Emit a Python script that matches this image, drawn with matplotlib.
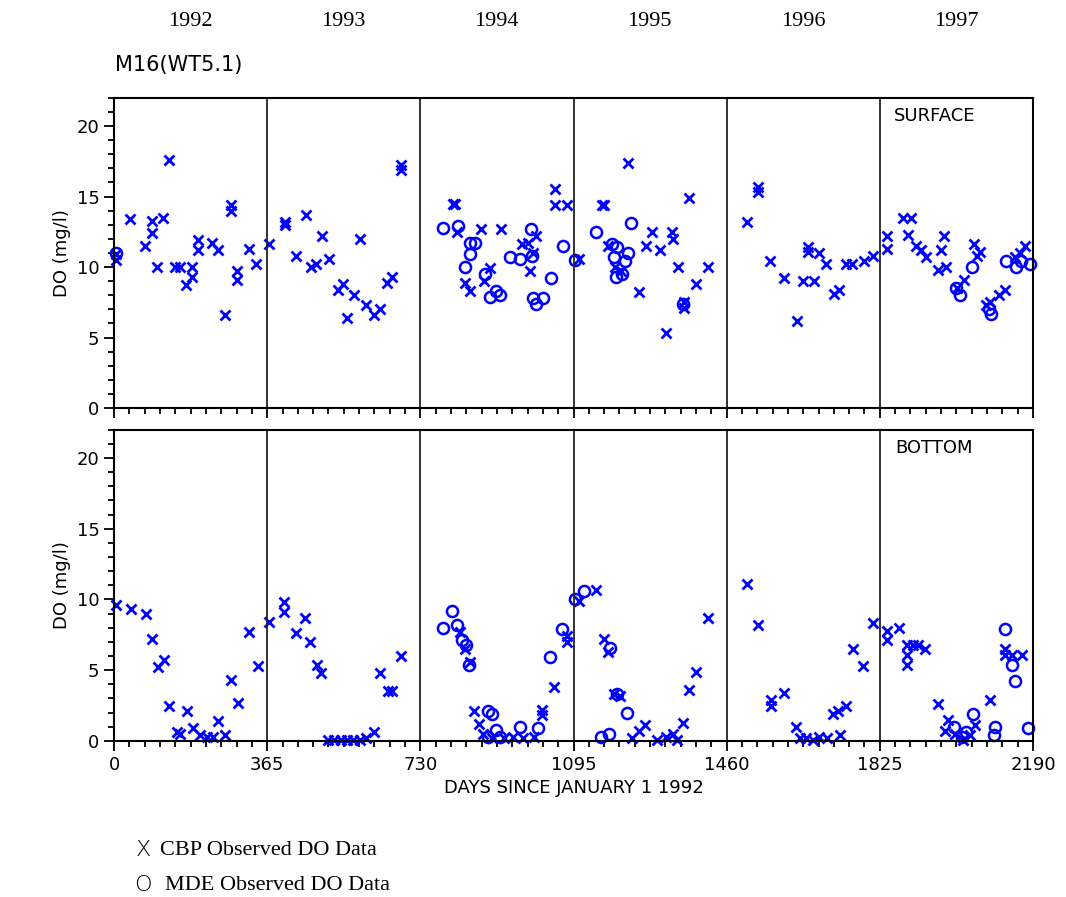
import numpy as np
import matplotlib
matplotlib.use('Agg')
import matplotlib.pyplot as plt
from matplotlib.ticker import MultipleLocator

years = ['1992', '1993', '1994', '1995', '1996', '1997']
xticks = [0, 365, 730, 1095, 1460, 1825, 2190]

# surface, CBP (x)
surf_cbp_day = [5, 5, 38, 74, 90, 90, 102, 117, 131, 145, 157, 172, 186, 186, 200, 200, 234, 248, 265, 279, 279, 293, 293, 322, 338,
                369, 408, 408, 434, 458, 470, 481, 496, 512, 534, 546, 555, 572, 586, 601, 620, 634, 651, 663, 684, 684,
                808, 812, 817, 874, 922, 837, 848, 987, 972, 1006, 998, 991, 1051, 1051, 1080, 896, 882,
                1108, 1163, 1167, 1177, 1194, 1208, 1225, 1251, 1268, 1282, 1301, 1316, 1330, 1332, 1344, 1358, 1358, 1370, 1387, 1416,
                1509, 1535, 1535, 1563, 1597, 1628, 1642, 1654, 1654, 1668, 1680, 1697, 1716, 1728, 1744, 1758, 1787, 1809,
                1842, 1842, 1880, 1899, 1892, 1911, 1923, 1935, 1964, 1971, 1978, 1983, 2009, 2025, 2049, 2064, 2057, 2078, 2088,
                2109, 2124, 2147, 2159, 2171]
surf_cbp_do = [10.9, 10.5, 13.4, 11.5, 13.3, 12.4, 10.0, 13.5, 17.6, 10.0, 10.0, 8.7, 9.3, 10.0, 11.9, 11.2, 11.7, 11.2, 6.6, 14.4, 14.0, 9.7, 9.1, 11.3, 10.2,
               11.6, 13.0, 13.2, 10.8, 13.7, 10.0, 10.2, 12.2, 10.6, 8.4, 8.8, 6.4, 8.0, 12.0, 7.3, 6.6, 7.0, 8.9, 9.3, 17.2, 16.9,
               14.5, 14.5, 12.5, 12.7, 12.7, 8.9, 8.3, 11.7, 11.6, 12.2, 11.0, 9.7, 15.5, 14.4, 14.4, 9.9, 9.0,
               10.6, 14.4, 14.4, 11.5, 10.0, 9.7, 17.4, 8.2, 11.5, 12.5, 11.2, 5.3, 12.5, 12.0, 10.0, 7.5, 7.1, 14.9, 8.8, 10.0,
               13.2, 15.7, 15.3, 10.4, 9.2, 6.2, 9.0, 11.4, 11.1, 9.0, 11.0, 10.2, 8.1, 8.4, 10.2, 10.2, 10.4, 10.8,
               12.2, 11.3, 13.5, 13.5, 12.3, 11.5, 11.2, 10.7, 9.8, 11.2, 12.2, 10.0, 8.5, 9.1, 11.6, 11.1, 10.8, 7.3, 7.5,
               8.0, 8.4, 10.7, 11.0, 11.5]

# surface, MDE (o)
surf_mde_day = [5, 784, 820, 848, 848, 860, 837, 884, 896, 910, 920, 944, 968, 994, 996, 998, 1006, 1022, 1041, 1070, 1099,
                1149, 1187, 1199, 1211, 1197, 1192, 1218, 1225, 1232, 1356,
                2045, 2007, 2016, 2085, 2090, 2126, 2150, 2183, 2162]
surf_mde_do = [11.0, 12.8, 12.9, 11.7, 10.9, 11.7, 10.0, 9.5, 7.9, 8.3, 8.0, 10.7, 10.6, 12.7, 10.8, 7.8, 7.4, 7.8, 9.2, 11.5, 10.5,
               12.5, 11.6, 11.4, 9.5, 9.3, 10.7, 10.4, 11.0, 13.1, 7.4,
               10.0, 8.5, 8.0, 7.0, 6.7, 10.4, 10.0, 10.2, 10.4]

# bottom, CBP (x)
bot_cbp_day = [5, 40, 76, 90, 105, 119, 131, 150, 157, 174, 188, 205, 222, 236, 248, 265, 279, 296, 322, 343,
               369, 405, 405, 434, 455, 467, 484, 493, 510, 525, 540, 555, 570, 585, 600, 620, 634, 653, 663, 684,
               824, 837, 848, 858, 870, 880, 900, 930, 950, 975, 1000, 1049, 1080, 1080, 1020, 1020,
               1108, 1149, 1168, 1177, 1192, 1206, 1235, 1251, 1266, 1294, 1316, 1332, 1342, 1356, 1370, 1387, 1416,
               1509, 1535, 1566, 1566, 1597, 1625, 1635, 1650, 1665, 1680, 1700, 1714, 1726, 1730, 1744, 1761, 1785, 1809,
               1842, 1842, 1871, 1890, 1890, 1890, 1904, 1916, 1933, 1964, 1980, 1988, 2004, 2023, 2040, 2052, 2088,
               2124, 2124, 2140, 2164]
bot_cbp_do = [9.6, 9.3, 9.0, 7.2, 5.2, 5.7, 2.5, 0.6, 0.5, 2.1, 0.9, 0.4, 0.3, 0.3, 1.4, 0.4, 4.3, 2.7, 7.7, 5.3,
              8.4, 9.8, 9.1, 7.6, 8.7, 7.0, 5.4, 4.8, 0.1, 0.1, 0.1, 0.1, 0.1, 0.1, 0.2, 0.6, 4.8, 3.5, 3.5, 6.0,
              7.7, 6.5, 5.6, 2.1, 1.2, 0.5, 0.2, 0.2, 0.3, 0.2, 0.3, 3.8, 7.0, 7.4, 2.2, 1.8,
              9.9, 10.7, 7.2, 6.3, 3.3, 3.2, 0.2, 0.7, 1.1, 0.1, 0.3, 0.5, 0.1, 1.3, 3.6, 4.9, 8.7,
              11.1, 8.2, 2.9, 2.5, 3.4, 1.0, 0.2, 0.2, 0.1, 0.3, 0.2, 1.9, 2.1, 0.4, 2.5, 6.5, 5.3, 8.3,
              7.8, 7.1, 8.0, 6.8, 6.1, 5.4, 6.8, 6.8, 6.5, 2.6, 0.7, 1.5, 0.5, 0.1, 0.4, 1.1, 2.9,
              6.5, 6.1, 6.1, 6.1]

# bottom, MDE (o)
bot_mde_day = [784, 806, 817, 829, 839, 846, 891, 901, 891, 910, 920, 968, 1010, 1039, 1068, 1099,
               1120, 1182, 1199, 1223, 1160, 1180,
               2002, 2030, 2021, 2047, 2097, 2100, 2124, 2140, 2147, 2178]
bot_mde_do = [8.0, 9.2, 8.2, 7.1, 6.8, 5.4, 2.1, 1.9, 0.3, 0.8, 0.3, 1.0, 0.9, 5.9, 7.9, 10.0,
              10.6, 6.6, 3.3, 2.0, 0.3, 0.5,
              1.0, 0.6, 0.3, 1.9, 0.4, 1.0, 7.9, 5.4, 4.2, 0.9]

fig = plt.figure(figsize=(10.66, 8.97), dpi=100)
ax1 = fig.add_axes([0.107, 0.545, 0.862, 0.346])
ax2 = fig.add_axes([0.107, 0.174, 0.862, 0.347])

blue = '#0000ff'
for ax, cd, cv, md, mv, lab in [(ax1, surf_cbp_day, surf_cbp_do, surf_mde_day, surf_mde_do, 'SURFACE'),
                                (ax2, bot_cbp_day, bot_cbp_do, bot_mde_day, bot_mde_do, 'BOTTOM')]:
    ax.plot(cd, cv, 'x', color=blue, ms=7, mew=2, clip_on=False)
    ax.plot(md, mv, 'o', color=blue, ms=8, mew=1.8, mfc='none', clip_on=False)
    for d in xticks[1:-1]:
        ax.axvline(d, color='#222222', lw=1.3)
    ax.set_xlim(0, 2190)
    ax.set_ylim(0, 22)
    ax.set_xticks(xticks)
    ax.xaxis.set_minor_locator(MultipleLocator(36.5))
    ax.set_yticks([0, 5, 10, 15, 20])
    ax.yaxis.set_minor_locator(MultipleLocator(1))
    ax.tick_params(which='major', length=7, width=1.3, labelsize=13)
    ax.tick_params(which='minor', length=4, width=1.3)
    for s in ax.spines.values():
        s.set_linewidth(1.5)
    ax.set_ylabel('DO (mg/l)', fontsize=13)
    ax.text(1955, 20.7, lab, fontsize=13, ha='center', va='center')

ax1.set_xticklabels([])
ax2.set_xlabel('DAYS SINCE JANUARY 1 1992', fontsize=13, labelpad=4)

for i, y in enumerate(years):
    fig.text((114 + (182 + 365 * i) * 0.4196) / 1066, 1 - 22 / 897, y,
             family='Liberation Serif', fontsize=16, ha='center', va='center')
fig.text(115 / 1066, 1 - 65 / 897, 'M16(WT5.1)', fontsize=15, va='center')

fig.text(143 / 1066, 1 - 850 / 897, 'X', fontsize=16, ha='center', va='center', fontweight='light')
fig.text(160 / 1066, 1 - 850 / 897, 'CBP Observed DO Data', family='Liberation Serif', fontsize=16, va='center')
fig.text(143 / 1066, 1 - 885 / 897, 'O', fontsize=16, ha='center', va='center', fontweight='light')
fig.text(165 / 1066, 1 - 885 / 897, 'MDE Observed DO Data', family='Liberation Serif', fontsize=16, va='center')

fig.savefig('out.png', dpi=100)
